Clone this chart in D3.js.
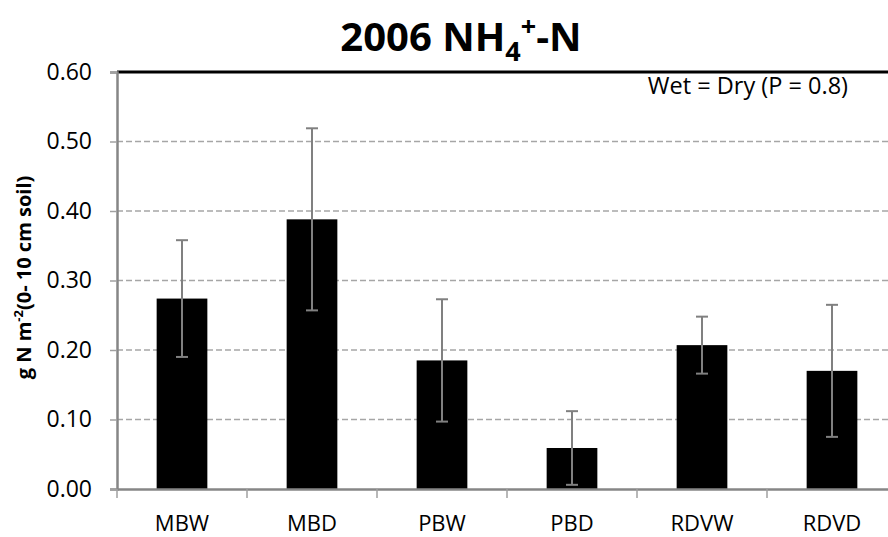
<!DOCTYPE html>
<html>
<head>
<meta charset="utf-8">
<script src="https://cdn.jsdelivr.net/npm/d3@7"></script>
<style>
  body { margin: 0; background: #fff; }
  text { font-family: "Open Sans", sans-serif; }
</style>
</head>
<body>
<div id="chart"></div>
<script>
const categories = ["MBW", "MBD", "PBW", "PBD", "RDVW", "RDVD"];
const means = [0.274, 0.388, 0.185, 0.059, 0.207, 0.170];
const errors = [0.084, 0.131, 0.088, 0.053, 0.041, 0.095];
const y_ticks = [0, 0.1, 0.2, 0.3, 0.4, 0.5, 0.6];

const W = 888, H = 537;
const margin = { top: 72, right: -9, bottom: 48, left: 117 };
const width = W - margin.left - margin.right;
const height = H - margin.top - margin.bottom;
const font = "'Open Sans', sans-serif";

const svg = d3.select("#chart").append("svg")
    .attr("width", W)
    .attr("height", H);
const g = svg.append("g")
    .attr("transform", `translate(${margin.left},${margin.top})`);

const x = d3.scaleBand()
    .domain(categories)
    .range([0, width])
    .paddingInner(0.61)
    .paddingOuter(0.305);
const x_step = d3.scaleBand().domain(categories).range([0, width]);

const y = d3.scaleLinear()
    .domain([0, 0.6])
    .range([height, 0]);

// gridlines
g.selectAll(".grid")
    .data(y_ticks.filter(d => d > 0 && d < 0.6))
    .enter().append("line")
    .attr("x1", 0).attr("x2", width)
    .attr("y1", d => y(d)).attr("y2", d => y(d))
    .attr("stroke", "#a6a6a6")
    .attr("stroke-width", 1.3)
    .attr("stroke-dasharray", "6,3");

// bars
g.selectAll(".bar")
    .data(categories)
    .enter().append("rect")
    .attr("x", d => x(d))
    .attr("width", x.bandwidth())
    .attr("y", (d, i) => y(means[i]))
    .attr("height", (d, i) => height - y(means[i]))
    .attr("fill", "#000");

// error bars
const cx = d => x(d) + x.bandwidth() / 2;
g.selectAll(".err")
    .data(categories)
    .enter().append("line")
    .attr("x1", cx).attr("x2", cx)
    .attr("y1", (d, i) => y(means[i] + errors[i]))
    .attr("y2", (d, i) => y(means[i] - errors[i]))
    .attr("stroke", "#808080")
    .attr("stroke-width", 2);
[1, -1].forEach(s => {
    g.selectAll(".cap" + s)
        .data(categories)
        .enter().append("line")
        .attr("x1", d => cx(d) - 6).attr("x2", d => cx(d) + 6)
        .attr("y1", (d, i) => y(means[i] + s * errors[i]))
        .attr("y2", (d, i) => y(means[i] + s * errors[i]))
        .attr("stroke", "#808080")
        .attr("stroke-width", 2);
});

// top frame line
g.append("line")
    .attr("x1", 0).attr("x2", width)
    .attr("y1", 0).attr("y2", 0)
    .attr("stroke", "#000")
    .attr("stroke-width", 3);

// y axis
const yAxis = g.append("g")
    .call(d3.axisLeft(y).tickValues(y_ticks).tickFormat(d3.format(".2f")).tickSize(7).tickPadding(18));
yAxis.attr("font-family", font).attr("font-size", 23);
yAxis.select(".domain").attr("stroke", "#868686").attr("stroke-width", 2.5);
yAxis.selectAll(".tick line").attr("stroke", "#a0a0a0").attr("stroke-width", 1.5);
yAxis.selectAll(".tick text").attr("fill", "#000");

// x axis
const xAxis = g.append("g")
    .attr("transform", `translate(0,${height})`)
    .call(d3.axisBottom(x).tickSize(0).tickPadding(26));
xAxis.attr("font-family", font).attr("font-size", 22);
xAxis.select(".domain").attr("stroke", "#868686").attr("stroke-width", 2.5);
xAxis.selectAll(".tick text").attr("fill", "#000");
g.selectAll(".xtick")
    .data(categories)
    .enter().append("line")
    .attr("x1", d => x_step(d)).attr("x2", d => x_step(d))
    .attr("y1", height).attr("y2", height + 9)
    .attr("stroke", "#a0a0a0")
    .attr("stroke-width", 1.5);

// title
const title = svg.append("text")
    .attr("x", 461)
    .attr("y", 51)
    .attr("text-anchor", "middle")
    .attr("font-size", "40px")
    .attr("font-weight", "bold");
title.append("tspan").text("2006 NH");
title.append("tspan").attr("font-size", "27px").attr("dy", 10).text("4");
title.append("tspan").attr("font-size", "27px").attr("dy", -25).text("+");
title.append("tspan").attr("dy", 15).text("-N");

// annotation
svg.append("text")
    .attr("x", 848)
    .attr("y", 94)
    .attr("text-anchor", "end")
    .attr("font-size", "23.5px")
    .text("Wet = Dry (P = 0.8)");

// y label
const ylab = svg.append("text")
    .attr("transform", `translate(31,${margin.top + height / 2 - 3}) rotate(-90)`)
    .attr("text-anchor", "middle")
    .attr("font-size", "20px")
    .attr("font-weight", "bold");
ylab.append("tspan").text("g N m");
ylab.append("tspan").attr("font-size", "13px").attr("dy", -8).text("-2");
ylab.append("tspan").attr("dy", 8).text("(0- 10 cm soil)");
</script>
</body>
</html>
